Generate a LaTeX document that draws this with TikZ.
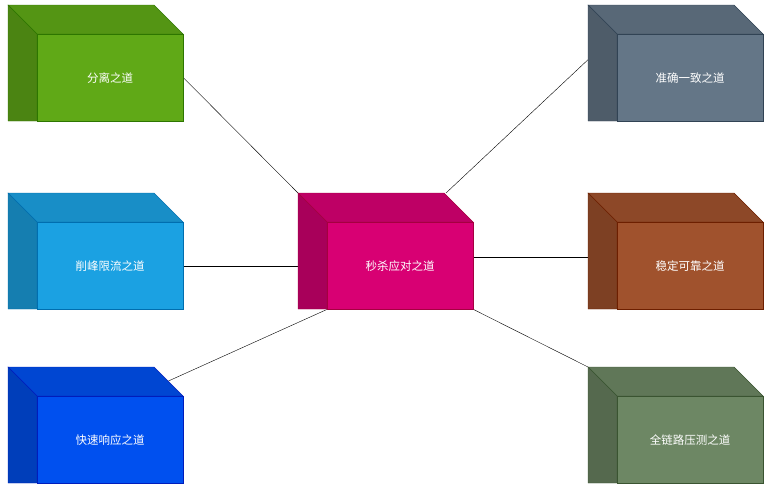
\documentclass[tikz,border=0pt]{standalone}
\usepackage{fontspec}
\newfontfamily\cjk{Noto Sans CJK SC}
\usetikzlibrary{calc}
\usetikzlibrary{backgrounds}
\definecolor{sepfill}{HTML}{60A917}\definecolor{sepline}{HTML}{2D7600}
\definecolor{peakfill}{HTML}{1BA1E2}\definecolor{peakline}{HTML}{006EAF}
\definecolor{fastfill}{HTML}{0050EF}\definecolor{fastline}{HTML}{001DBC}
\definecolor{corefill}{HTML}{D80073}\definecolor{coreline}{HTML}{A50040}
\definecolor{accfill}{HTML}{647687}\definecolor{accline}{HTML}{314354}
\definecolor{stabfill}{HTML}{A0522D}\definecolor{stabline}{HTML}{6D1F00}
\definecolor{testfill}{HTML}{6D8764}\definecolor{testline}{HTML}{3A5431}
\tikzset{box/.style={minimum width=146pt,minimum height=87pt,inner sep=0pt,text=white,
  font=\cjk\fontsize{11.5}{14}\selectfont}}
% name, x, y (top-left corner), fill, line, text
\newcommand\cubebox[6]{%
  \filldraw[fill=#4!88!black,draw=#5] (#2,-#3) -- ++(146,0) -- ++(29,-29) -- ++(-146,0) -- cycle;
  \filldraw[fill=#4!78!black,draw=#5] (#2,-#3) -- ++(29,-29) -- ++(0,-87) -- ++(-29,-29+29) -- ++(0,0) -- (#2,-#3-87) -- cycle;
  \node[box,fill=#4,draw=#5,anchor=north west] (#1) at (#2+29,-#3-29) {#6};
  \coordinate (#1-tl) at (#2,-#3);}

\begin{document}
\begin{tikzpicture}[x=1pt,y=1pt]
    \useasboundingbox (0,0) rectangle (770,-491);

    \cubebox{sep}{8}{5}{sepfill}{sepline}{分离之道}
    \cubebox{peak}{8}{193}{peakfill}{peakline}{削峰限流之道}
    \cubebox{fast}{8}{367}{fastfill}{fastline}{快速响应之道}
    \cubebox{core}{298}{193}{corefill}{coreline}{秒杀应对之道}
    \cubebox{acc}{588}{5}{accfill}{accline}{准确一致之道}
    \cubebox{stab}{588}{193}{stabfill}{stabline}{稳定可靠之道}
    \cubebox{test}{588}{367}{testfill}{testline}{全链路压测之道}

    \begin{scope}[on background layer]
    \draw (sep.east) -- (core-tl);
    \draw (peak.east) -- (peak.east -| core-tl);
    \draw (core.south west) -- ($(fast.north east)+(-15,15)$);
    \draw ($(core-tl)+(148,0)$) -- ($(acc.west)+(-29,18)$);
    \draw ($(core.east)+(0,9)$) -- ($(stab.west)+(0,9)$);
    \draw (core.south east) -- (test-tl);
    \end{scope}

\end{tikzpicture}
\end{document}
